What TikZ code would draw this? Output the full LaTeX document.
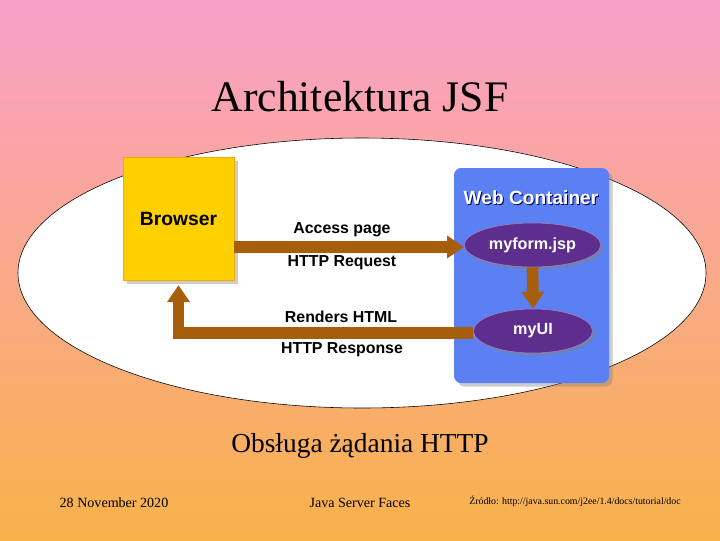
\documentclass[tikz,border=0pt]{standalone}
\usepackage{fontspec}
\setmainfont{Liberation Serif}
\newfontfamily\hv{Liberation Sans}
\usetikzlibrary{positioning}
\usetikzlibrary{shapes,shadows}
\usetikzlibrary{arrows.meta}

\definecolor{slidetop}{RGB}{249,160,202}
\definecolor{slidebot}{RGB}{248,178,74}
\definecolor{browseryellow}{RGB}{255,208,0}
\definecolor{browseredge}{RGB}{240,170,0}
\definecolor{webblue}{RGB}{90,128,244}
\definecolor{stagepurple}{RGB}{94,46,142}
\definecolor{flowbrown}{RGB}{166,94,10}

\def\dpx{0.025cm}

\tikzset{
  flow/.style={flowbrown, line width=8.3pt, line join=miter,
    -{Triangle[width=15.5pt,length=12pt]}},
  stage/.style={ellipse, fill=stagepurple, draw=stagepurple!60!white,
    minimum width=119*\dpx, minimum height=44*\dpx, text=white,
    font=\hv\bfseries\fontsize{11.5}{13}\selectfont,
    drop shadow={shadow xshift=2pt, shadow yshift=-2pt, opacity=0.45}},
  lbl/.style={font=\hv\bfseries\fontsize{11.3}{13}\selectfont},
  foot/.style={font=\fontsize{10}{12}\selectfont},
}

\begin{document}
\begin{tikzpicture}[x=\dpx, y=-\dpx]

  %slide background
  \useasboundingbox (0,0) rectangle (720,540);
  \shade[top color=slidetop, bottom color=slidebot] (0,0) rectangle (720,540);

  \node (title) at (360,97) {\fontsize{31}{36}\selectfont Architektura JSF};

  \node[ellipse, draw=black, thin, fill=white, minimum width=688*\dpx,
        minimum height=270*\dpx] (oval) at (362,273) {};

  %browser and container
  \node[draw=browseredge, fill=browseryellow, minimum width=111*\dpx,
        minimum height=123*\dpx,
        font=\hv\bfseries\fontsize{13.7}{15}\selectfont,
        drop shadow={shadow xshift=2.5pt, shadow yshift=-2.5pt, opacity=0.4}]
        (browser) at (178.5,218.5) {Browser};

  \node[fill=webblue, rounded corners=5pt, minimum width=155*\dpx,
        minimum height=215*\dpx,
        drop shadow={shadow xshift=2.5pt, shadow yshift=-2.5pt, opacity=0.4}]
        (container) at (531.5,275.5) {};
  \node[text=black!60!blue, font=\hv\bfseries\fontsize{13.6}{15}\selectfont]
        (webshade) at (532,199) {Web Container};
  \node[text=white, font=\hv\bfseries\fontsize{13.6}{15}\selectfont]
        (webtitle) at (531,198) {Web Container};

  \node[stage] (form) at (532.5,245) {myform.jsp};
  \node[stage] (ui) at (533,331) {myUI};

  %request / response
  \draw[flow] (browser.east |- 0,247) -- (form.west |- 0,247);
  \draw[flow] (form.south) -- (ui.north);
  \draw[flow, shorten >=3.5pt] (ui.west |- 0,333) -| (browser.south);

  \foreach \x/\y/\txt/\name in {342/230/Access page/acc, 342/263/HTTP Request/req,
                                341/317/Renders HTML/ren, 342/350/HTTP Response/resp}{
    \node[lbl] (\name) at (\x,\y) {\txt};
  }

  \node (caption) at (360,446) {\fontsize{19.5}{23}\selectfont Obsługa żądania HTTP};

  %footer
  \node[foot] (date) at (114,503) {28 November 2020};
  \node[foot] (topic) at (360,503) {Java Server Faces};
  \node[font=\fontsize{7}{8}\selectfont] (src) at (575,501)
        {Źródło: http://java.sun.com/j2ee/1.4/docs/tutorial/doc};

\end{tikzpicture}
\end{document}
